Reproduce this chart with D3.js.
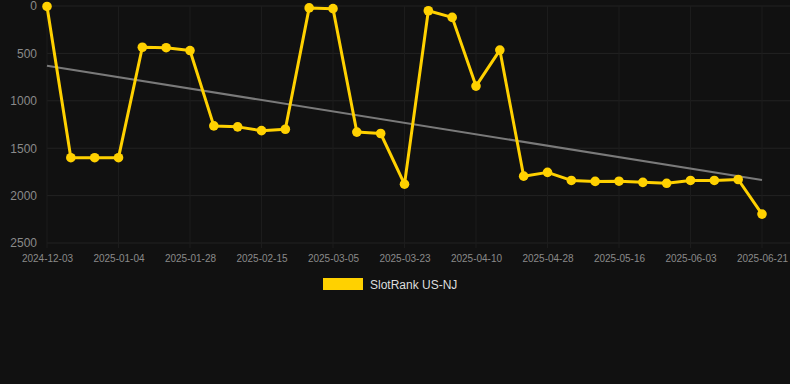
<!DOCTYPE html>
<html><head><meta charset="utf-8">
<script src="https://cdn.jsdelivr.net/npm/d3@7"></script>
<style>html,body{margin:0;padding:0;background:#111111;}svg{display:block;}</style>
</head><body>
<svg id="c" width="790" height="384"></svg>
<script>
const dates = ["2024-12-03","2024-12-14","2024-12-24","2025-01-04","2025-01-12","2025-01-20","2025-01-28","2025-02-03","2025-02-09","2025-02-15","2025-02-21","2025-02-27","2025-03-05","2025-03-11","2025-03-17","2025-03-23","2025-03-29","2025-04-04","2025-04-10","2025-04-16","2025-04-22","2025-04-28","2025-05-04","2025-05-10","2025-05-16","2025-05-22","2025-05-28","2025-06-03","2025-06-09","2025-06-15","2025-06-21"];
const ranks = [5,1600,1600,1600,435,440,470,1265,1275,1315,1300,20,28,1330,1345,1880,50,120,845,465,1795,1755,1840,1850,1848,1860,1870,1840,1840,1830,2195];
const trendValues = [630,1835];
const yTicks = [0,500,1000,1500,2000,2500];
const seriesName = "SlotRank US-NJ";

(function(){
const svg = d3.select("#c");
const mL = 47, mR = 762, mT = 6, mB = 243;
const x = d3.scalePoint().domain(dates).range([mL, mR]);
const y = d3.scaleLinear().domain([0, 2500]).range([mT, mB]);

// grid
const tickDates = dates.filter((d,i)=>i%3===0);
svg.append("g").selectAll("line").data(yTicks).join("line")
  .attr("x1", mL).attr("x2", 790).attr("y1", d=>y(d)).attr("y2", d=>y(d))
  .attr("stroke", "#232323").attr("stroke-width", 1);
svg.append("g").selectAll("line").data(tickDates).join("line")
  .attr("x1", d=>x(d)).attr("x2", d=>x(d)).attr("y1", mT).attr("y2", mB+5)
  .attr("stroke", "#1c1c1c").attr("stroke-width", 1);

// y axis
const ya = svg.append("g").attr("transform", `translate(${mL},0)`)
  .call(d3.axisLeft(y).tickValues(yTicks).tickSize(0).tickPadding(10).tickFormat(d3.format("d")));
ya.select(".domain").remove();
ya.selectAll("text").attr("fill", "#8a8a8a").attr("font-family", "Liberation Sans, Arial, sans-serif").attr("font-size", 12);

// x axis
const xa = svg.append("g").attr("transform", `translate(0,${mB})`)
  .call(d3.axisBottom(x).tickValues(tickDates).tickSize(0).tickPadding(12));
xa.select(".domain").remove();
xa.selectAll("text").attr("fill", "#8a8a8a").attr("font-family", "Liberation Sans, Arial, sans-serif").attr("font-size", 10);

// trend
svg.append("line")
  .attr("x1", x(dates[0])).attr("y1", y(trendValues[0]))
  .attr("x2", x(dates[dates.length-1])).attr("y2", y(trendValues[1]))
  .attr("stroke", "#7a7a7a").attr("stroke-width", 2);

// series
const data = dates.map((d,i)=>({d, v: ranks[i]}));
svg.append("path").datum(data)
  .attr("d", d3.line().x(p=>x(p.d)).y(p=>y(p.v)))
  .attr("fill", "none").attr("stroke", "#FFD100").attr("stroke-width", 3).attr("stroke-linejoin","round");
svg.append("g").selectAll("circle").data(data).join("circle")
  .attr("cx", p=>x(p.d)).attr("cy", p=>y(p.v)).attr("r", 4.8).attr("fill", "#FFD100");

// legend
svg.append("rect").attr("x", 323).attr("y", 278).attr("width", 40).attr("height", 12).attr("fill", "#FFD100");
svg.append("text").attr("x", 370).attr("y", 288.5).text(seriesName)
  .attr("fill", "#dddddd").attr("font-family", "Liberation Sans, Arial, sans-serif").attr("font-size", 12);
})();
</script>
</body></html>
